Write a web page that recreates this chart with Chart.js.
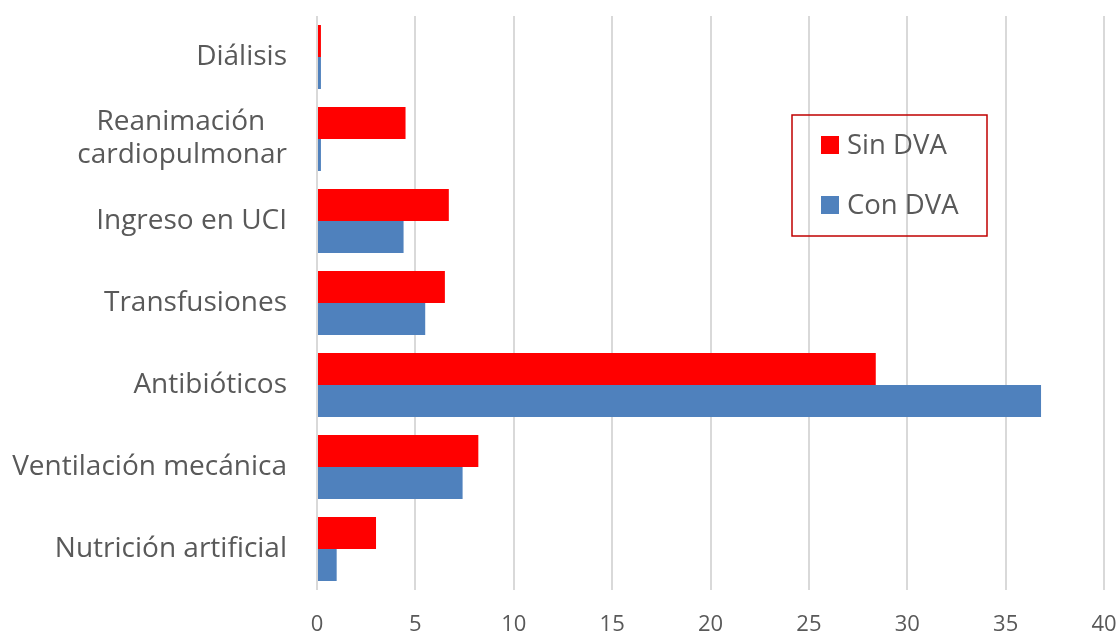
<!DOCTYPE html>
<html>
<head>
<meta charset="utf-8">
<script src="https://cdn.jsdelivr.net/npm/chart.js@4.4.1/dist/chart.umd.min.js"></script>
<style>
  html, body { margin: 0; padding: 0; background: #ffffff; }
  #wrap { width: 1116px; height: 631px; }
</style>
</head>
<body>
<div id="wrap"><canvas id="c" width="1116" height="631"></canvas></div>
<script>
const categories = [
  "Diálisis",
  ["Reanimación   ", "cardiopulmonar"],
  "Ingreso en UCI",
  "Transfusiones",
  "Antibióticos",
  "Ventilación mecánica",
  "Nutrición artificial"
];
const seriesNames = ["Sin DVA", "Con DVA"];
const sinDVA = [0.2, 4.5, 6.7, 6.5, 28.4, 8.2, 3.0];
const conDVA = [0.2, 0.2, 4.4, 5.5, 36.8, 7.4, 1.0];
const xTicks = [0, 5, 10, 15, 20, 25, 30, 35, 40];

const FONT = "'Open Sans', 'Liberation Sans', sans-serif";
const TEXT = "#595959";
const colors = ["#ff0000", "#4f81bd"];

const boxLegend = {
  id: "boxLegend",
  afterDraw(chart) {
    const ctx = chart.ctx;
    const x0 = 792, y0 = 115, w = 195, h = 121;
    ctx.save();
    ctx.strokeStyle = "#c00000";
    ctx.lineWidth = 1.5;
    ctx.strokeRect(x0, y0, w, h);
    ctx.font = "27.5px " + FONT;
    ctx.textBaseline = "middle";
    ctx.textAlign = "left";
    chart.data.datasets.forEach((ds, i) => {
      const cy = y0 + 30 + i * 60;
      ctx.fillStyle = ds.backgroundColor;
      ctx.fillRect(x0 + 29, cy - 9, 18, 18);
      ctx.fillStyle = TEXT;
      ctx.fillText(ds.label, x0 + 55, cy + 1);
    });
    ctx.restore();
  }
};

new Chart(document.getElementById("c"), {
  type: "bar",
  data: {
    labels: categories,
    datasets: [
      { label: seriesNames[0], data: sinDVA, backgroundColor: colors[0], categoryPercentage: 0.78, barPercentage: 1.0 },
      { label: seriesNames[1], data: conDVA, backgroundColor: colors[1], categoryPercentage: 0.78, barPercentage: 1.0 }
    ]
  },
  options: {
    indexAxis: "y",
    responsive: false,
    animation: false,
    devicePixelRatio: 1,
    layout: { padding: { top: 16, right: 12, left: 0, bottom: 0 } },
    plugins: {
      legend: { display: false },
      tooltip: { enabled: false }
    },
    scales: {
      x: {
        min: 0, max: 40,
        afterBuildTicks(scale) { scale.ticks = xTicks.map(v => ({ value: v })); },
        afterFit(scale) { scale.height = 41; scale.paddingLeft = 0; scale.paddingRight = 0; },
        ticks: { color: TEXT, font: { family: FONT, size: 22 }, padding: 22 },
        grid: { color: "#d9d9d9", lineWidth: 2, drawTicks: false },
        border: { display: false }
      },
      y: {
        afterFit(scale) { scale.width = 317; scale.paddingTop = 0; scale.paddingBottom = 0; },
        ticks: { color: TEXT, font: { family: FONT, size: 28, lineHeight: 1.18 }, padding: 30 },
        grid: { display: false, drawTicks: false },
        border: { display: false }
      }
    }
  },
  plugins: [boxLegend]
});
</script>
</body>
</html>
